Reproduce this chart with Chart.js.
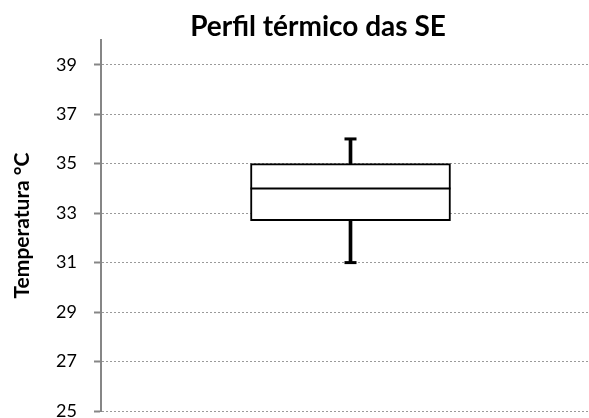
<!DOCTYPE html>
<html>
<head>
<meta charset="utf-8">
<script src="https://cdn.jsdelivr.net/npm/chart.js@4/dist/chart.umd.min.js"></script>
<style>
  html, body { margin: 0; padding: 0; background: #fff; }
  #wrap { position: relative; width: 589px; height: 418px; overflow: hidden; background: #fff; }
  #box { position: absolute; left: 0; top: 0; width: 600px; height: 440px; }
  #title { position: absolute; left: 0; top: 11px; width: 636px; text-align: center;
           font: bold 28px Lato, sans-serif; line-height: 28px; color: #000; white-space: nowrap; }
</style>
</head>
<body>
<div id="wrap">
  <div id="box"><canvas id="cv"></canvas></div>
  <div id="title">Perfil térmico das SE</div>
</div>
<script>
const categories = ['SE'];
const minValues = [31];
const q1Values = [32.7];
const medianValues = [34];
const q3Values = [35];
const maxValues = [36];
const yTicks = [25, 27, 29, 31, 33, 35, 37, 39];
const yMin = 25, yMax = 40;

const boxData = categories.map((c, i) => [q1Values[i], q3Values[i]]);
const upperWhisker = categories.map((c, i) => [q3Values[i], maxValues[i]]);
const lowerWhisker = categories.map((c, i) => [minValues[i], q1Values[i]]);

new Chart(document.getElementById('cv'), {
  type: 'bar',
  data: {
    labels: categories,
    datasets: [
      { label: 'box', data: boxData, grouped: false, barThickness: 200,
        backgroundColor: '#ffffff', borderColor: '#000000', borderWidth: 2,
        borderSkipped: false, order: 3 },
      { label: 'upper', data: upperWhisker, grouped: false, barThickness: 3,
        backgroundColor: '#000000', borderWidth: 0, order: 2 },
      { label: 'lower', data: lowerWhisker, grouped: false, barThickness: 3,
        backgroundColor: '#000000', borderWidth: 0, order: 2 },
      { type: 'line', label: 'median', data: medianValues, showLine: false, clip: false,
        pointStyle: 'line', pointRadius: 100, pointHoverRadius: 100,
        borderColor: '#000000', pointBorderWidth: 2, borderWidth: 2, order: 1 },
      { type: 'line', label: 'max', data: maxValues, showLine: false, clip: false,
        pointStyle: 'line', pointRadius: 6, pointHoverRadius: 6,
        borderColor: '#000000', pointBorderWidth: 3, borderWidth: 3, order: 1 },
      { type: 'line', label: 'min', data: minValues, showLine: false, clip: false,
        pointStyle: 'line', pointRadius: 6, pointHoverRadius: 6,
        borderColor: '#000000', pointBorderWidth: 3, borderWidth: 3, order: 1 }
    ]
  },
  options: {
    responsive: true,
    maintainAspectRatio: false,
    animation: false,
    layout: { autoPadding: false, padding: { left: 0, right: 0, top: 40, bottom: 29 } },
    plugins: { legend: { display: false }, tooltip: { enabled: false }, title: { display: false } },
    scales: {
      x: { display: false },
      y: {
        min: yMin, max: yMax,
        afterBuildTicks: (s) => { s.ticks = yTicks.map(v => ({ value: v })); },
        afterFit: (s) => { s.width = 101; },
        ticks: { stepSize: 2, padding: 17, color: '#000000',
                 font: { family: 'Lato', size: 18 } },
        grid: { color: '#9a9a9a', lineWidth: 1, tickLength: 7, tickColor: '#868686',
                tickWidth: 2, tickBorderDash: [] },
        border: { display: true, color: '#868686', width: 2, dash: [2, 2] },
        title: { display: true, text: 'Temperatura °C', color: '#000000',
                 font: { family: 'Lato', size: 21, weight: 'bold' },
                 padding: { top: 10, bottom: 0 } }
      }
    }
  }
});
</script>
</body>
</html>
